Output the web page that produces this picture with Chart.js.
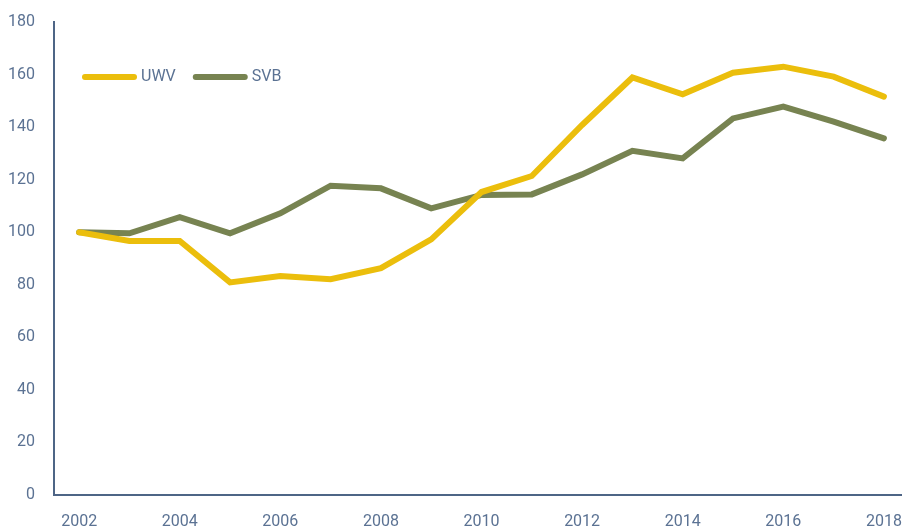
<!DOCTYPE html>
<html>
<head>
<meta charset="utf-8">
<script src="https://cdn.jsdelivr.net/npm/chart.js@4"></script>
<style>
  html, body { margin: 0; padding: 0; background: #fff; }
  #wrap { width: 902px; height: 529px; position: relative; }
</style>
</head>
<body>
<div id="wrap"><canvas id="chart"></canvas></div>
<script>
// Index values (2002 = 100)
const years = [2002, 2003, 2004, 2005, 2006, 2007, 2008, 2009, 2010, 2011, 2012, 2013, 2014, 2015, 2016, 2017, 2018];
const uwv = [100, 96.7, 96.7, 80.9, 83.3, 82.1, 86.3, 97.3, 115.3, 121.4, 140.8, 158.9, 152.5, 160.7, 163, 159.2, 151.6];
const svb = [100, 99.6, 105.7, 99.6, 107.2, 117.7, 116.7, 109.1, 114.2, 114.4, 122, 131, 128.1, 143.3, 147.8, 142.1, 135.7];
const yTicks = [0, 20, 40, 60, 80, 100, 120, 140, 160, 180];
const xTicks = [2002, 2004, 2006, 2008, 2010, 2012, 2014, 2016, 2018];

const labelColor = '#5b7293';
const axisColor = '#4e6586';
const font = { family: "'Liberation Sans Narrow', 'Roboto', sans-serif", size: 16 };

const toPoints = vals => vals.map((v, i) => ({ x: years[i], y: v }));

// legend drawn inside the plot area, top-left
const insideLegend = {
    id: 'insideLegend',
    afterDraw(chart) {
        const ctx = chart.ctx;
        let x = chart.chartArea.left + 28;
        const y = chart.chartArea.top + 55;
        ctx.save();
        ctx.font = `${font.size}px ${font.family}`;
        ctx.textBaseline = 'middle';
        chart.data.datasets.forEach(ds => {
            ctx.strokeStyle = ds.borderColor;
            ctx.lineWidth = 6;
            ctx.lineCap = 'round';
            ctx.beginPath();
            ctx.moveTo(x + 3, y);
            ctx.lineTo(x + 52, y);
            ctx.stroke();
            ctx.fillStyle = labelColor;
            ctx.fillText(ds.label, x + 59, y);
            x += 59 + ctx.measureText(ds.label).width + 17;
        });
        ctx.restore();
    }
};

new Chart(document.getElementById('chart'), {
    type: 'line',
    data: {
        datasets: [
            { label: 'UWV', data: toPoints(uwv), borderColor: '#ebbe0c', borderWidth: 6 },
            { label: 'SVB', data: toPoints(svb), borderColor: '#778351', borderWidth: 6 }
        ]
    },
    options: {
        responsive: true,
        maintainAspectRatio: false,
        animation: false,
        layout: { autoPadding: false, padding: { top: 22, right: 0, left: 0, bottom: 0 } },
        elements: {
            point: { radius: 0 },
            line: { tension: 0, borderCapStyle: 'round', borderJoinStyle: 'miter' }
        },
        plugins: {
            legend: { display: false },
            tooltip: { enabled: false }
        },
        scales: {
            x: {
                type: 'linear',
                min: 2001.5,
                max: 2018.36,
                afterBuildTicks(scale) { scale.ticks = xTicks.map(v => ({ value: v })); },
                afterFit(scale) {
                    scale.height = 34;
                    scale.paddingLeft = 0;
                    scale.paddingRight = 0;
                },
                grid: { display: false, drawTicks: false },
                border: { display: true, color: axisColor, width: 2 },
                ticks: { color: labelColor, font, padding: 17, maxRotation: 0, autoSkip: false, callback: v => String(v) }
            },
            y: {
                min: 0,
                max: 180,
                afterBuildTicks(scale) { scale.ticks = yTicks.map(v => ({ value: v })); },
                afterFit(scale) {
                    scale.width = 54;
                    scale.paddingTop = 0;
                    scale.paddingBottom = 0;
                },
                grid: { display: false, drawTicks: false },
                border: { display: true, color: axisColor, width: 2 },
                ticks: { color: labelColor, font, padding: 19 }
            }
        }
    },
    plugins: [insideLegend]
});
</script>
</body>
</html>
